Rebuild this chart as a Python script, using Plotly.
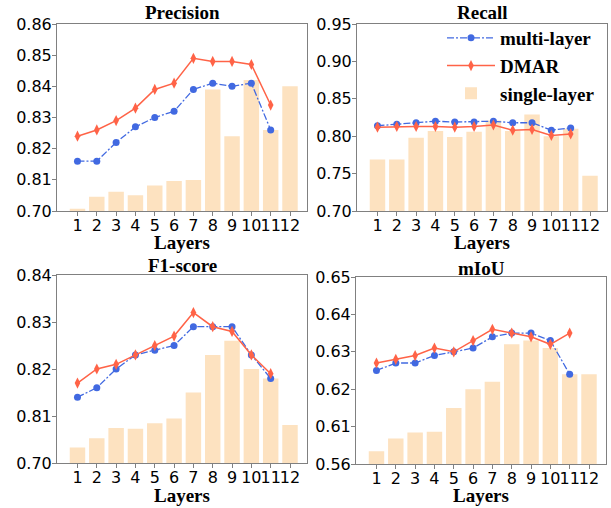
import plotly.graph_objects as go

# ---------------- data ----------------
layers = list(range(1, 13))
layer_labels = [str(i) for i in layers]
line_layers = layers[:11]

prec_multi = [0.816, 0.816, 0.822, 0.827, 0.830, 0.832, 0.839, 0.841, 0.840, 0.841, 0.826]
prec_dmar = [0.824, 0.826, 0.829, 0.833, 0.839, 0.841, 0.849, 0.848, 0.848, 0.847, 0.834]
prec_single = [0.708, 0.750, 0.768, 0.756, 0.790, 0.806, 0.809, 0.839, 0.824, 0.842, 0.826, 0.840]
prec_ticks = [0.70, 0.81, 0.82, 0.83, 0.84, 0.85, 0.86]

rec_multi = [0.814, 0.816, 0.818, 0.820, 0.819, 0.819, 0.820, 0.818, 0.818, 0.808, 0.811]
rec_dmar = [0.812, 0.813, 0.813, 0.813, 0.812, 0.813, 0.815, 0.808, 0.809, 0.801, 0.803]
rec_single = [0.769, 0.769, 0.798, 0.807, 0.799, 0.806, 0.821, 0.807, 0.829, 0.800, 0.810, 0.747]
rec_ticks = [0.70, 0.75, 0.80, 0.85, 0.90, 0.95]

f1_multi = [0.814, 0.816, 0.820, 0.823, 0.824, 0.825, 0.829, 0.829, 0.829, 0.823, 0.818]
f1_dmar = [0.817, 0.820, 0.821, 0.823, 0.825, 0.827, 0.832, 0.829, 0.828, 0.823, 0.819]
f1_single = [0.736, 0.758, 0.782, 0.780, 0.793, 0.804, 0.815, 0.823, 0.826, 0.820, 0.818, 0.789]
f1_ticks = [0.70, 0.81, 0.82, 0.83, 0.84]

miou_multi = [0.625, 0.627, 0.627, 0.629, 0.630, 0.631, 0.634, 0.635, 0.635, 0.633, 0.624]
miou_dmar = [0.627, 0.628, 0.629, 0.631, 0.630, 0.633, 0.636, 0.635, 0.634, 0.632, 0.635]
miou_single = [0.577, 0.594, 0.602, 0.603, 0.615, 0.620, 0.622, 0.632, 0.633, 0.631, 0.624, 0.624]
miou_ticks = [0.56, 0.61, 0.62, 0.63, 0.64, 0.65]

# (title, multi, dmar, single, ticks, break value (first tick above the gap) or None, step)
panels = [
    ("Precision", prec_multi, prec_dmar, prec_single, prec_ticks, 0.81, 0.01),
    ("Recall", rec_multi, rec_dmar, rec_single, rec_ticks, None, 0.05),
    ("F1-score", f1_multi, f1_dmar, f1_single, f1_ticks, 0.81, 0.01),
    ("mIoU", miou_multi, miou_dmar, miou_single, miou_ticks, 0.61, 0.01),
]

# ---------------- style ----------------
W, H = 611, 508
BLUE = "#4169E1"
RED = "#FF6347"
BAR = "#FDE2C0"
FRAME = "#808080"
SERIF = "Liberation Serif, Times New Roman, serif"
SANS = "DejaVu Sans, sans-serif"

# pixel boxes (left, right, top, bottom), subplot title centre y, x-title centre y
boxes = [(57, 307, 24, 211, 13, 242), (357, 607, 24, 211, 13, 242),
         (57, 307, 275, 463, 265, 495), (356, 606, 277, 464, 268, 495)]


def to_axis(v, low, brk, step):
    """Broken-axis mapping: values below brk are compressed into one step."""
    if brk is None or v >= brk:
        return v
    return brk - step + (v - low) / (brk - low) * step


fig = go.Figure()
layout = dict(
    width=W, height=H,
    margin=dict(l=0, r=0, t=0, b=0, autoexpand=False),
    paper_bgcolor="white", plot_bgcolor="white",
    showlegend=True,
    legend=dict(x=442 / W, y=1 - 19 / H, xanchor="left", yanchor="top",
                bgcolor="rgba(0,0,0,0)",
                font=dict(family=SERIF, size=19, color="black", weight="bold"),
                itemwidth=48, tracegroupgap=0),
    annotations=[],
    bargap=0.2,
)

for i, (title, multi, dmar, single, ticks, brk, step) in enumerate(panels):
    n = i + 1
    xa = "x" if n == 1 else f"x{n}"
    ya = "y" if n == 1 else f"y{n}"
    low = ticks[0]
    show = (title == "Recall")
    fig.add_trace(go.Bar(
        x=layers, y=[to_axis(v, low, brk, step) for v in single],
        width=0.8, marker=dict(color=BAR, line=dict(width=0)),
        name="single-layer", legendrank=3, showlegend=show,
        xaxis=xa, yaxis=ya))
    fig.add_trace(go.Scatter(
        x=line_layers, y=[to_axis(v, low, brk, step) for v in multi],
        mode="lines+markers", name="multi-layer", legendrank=1, showlegend=show,
        line=dict(color=BLUE, width=1.3, dash="7px,2px,2px,2px"),
        marker=dict(symbol="circle", size=7, color=BLUE),
        xaxis=xa, yaxis=ya))
    fig.add_trace(go.Scatter(
        x=line_layers, y=[to_axis(v, low, brk, step) for v in dmar],
        mode="lines+markers", name="DMAR", legendrank=2, showlegend=show,
        line=dict(color=RED, width=1.5),
        marker=dict(symbol="diamond-tall", size=8, color=RED),
        xaxis=xa, yaxis=ya))

    l, r, t, b, ty, xty = boxes[i]
    xkey = "xaxis" if n == 1 else f"xaxis{n}"
    ykey = "yaxis" if n == 1 else f"yaxis{n}"
    layout[xkey] = dict(
        domain=[l / W, r / W], anchor=ya, range=[-0.06, 12.88],
        tickmode="array", tickvals=layers, ticktext=layer_labels, tickangle=0,
        ticks="outside", ticklen=4, tickcolor=FRAME, tickwidth=1,
        tickfont=dict(family=SANS, size=16, color="black"), ticklabelstandoff=-4,
        showline=True, linecolor=FRAME, linewidth=1, mirror=True,
        showgrid=False, zeroline=False, automargin=False,
    )
    tickvals = [to_axis(v, low, brk, step) for v in ticks]
    layout[ykey] = dict(
        domain=[1 - b / H, 1 - t / H], anchor=xa,
        range=[tickvals[0], tickvals[-1]],
        tickmode="array", tickvals=tickvals, ticktext=[f"{v:.2f}" for v in ticks],
        ticks="outside", ticklen=4, tickcolor=FRAME, tickwidth=1,
        tickfont=dict(family=SANS, size=16, color="black"), ticklabelstandoff=-3,
        showline=True, linecolor=FRAME, linewidth=1, mirror=True,
        showgrid=False, zeroline=False, automargin=False,
    )
    layout["annotations"].append(dict(
        text=title, x=(l + r) / 2 / W, y=1 - ty / H,
        xref="paper", yref="paper", xanchor="center", yanchor="middle",
        showarrow=False, font=dict(family=SERIF, size=19, color="black", weight="bold")))
    layout["annotations"].append(dict(
        text="Layers", x=(l + r) / 2 / W, y=1 - xty / H,
        xref="paper", yref="paper", xanchor="center", yanchor="middle",
        showarrow=False, font=dict(family=SERIF, size=19, color="black", weight="bold")))

fig.update_layout(**layout)
fig.write_html("out.html", config={"displayModeBar": False},
               post_script="document.body.style.margin='0';")
